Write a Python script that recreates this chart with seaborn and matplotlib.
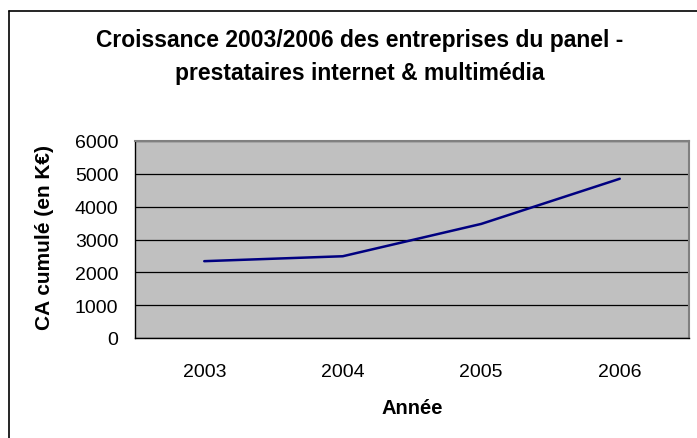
import numpy as np
import pandas as pd
import matplotlib
matplotlib.use("Agg")
import matplotlib.pyplot as plt
from matplotlib.lines import Line2D
import seaborn as sns

years = ["2003", "2004", "2005", "2006"]
ca_cumule = [2340, 2490, 3475, 4850]
y_ticks = [0, 1000, 2000, 3000, 4000, 5000, 6000]

title = "Croissance 2003/2006 des entreprises du panel -\nprestataires internet & multimédia"
x_label = "Année"
y_label = "CA cumulé (en K€)"

sns.set_style("white")
plt.rcParams["font.family"] = ["Liberation Sans", "DejaVu Sans"]
plt.rcParams["text.color"] = "black"
plt.rcParams["xtick.color"] = "black"
plt.rcParams["ytick.color"] = "black"

df = pd.DataFrame({"pos": np.arange(len(years)), "ca": ca_cumule})

fig = plt.figure(figsize=(6.97, 4.39), dpi=100)
ax = fig.add_axes([135 / 697, 100 / 439, 554 / 697, 197 / 439])
ax.set_facecolor("#C0C0C0")

sns.lineplot(data=df, x="pos", y="ca", color="#000080", linewidth=1.8, ax=ax)

ax.set_xlim(-0.5, len(years) - 0.5)
ax.set_ylim(0, 6000)
ax.set_yticks(y_ticks)
ax.set_yticklabels([str(v) for v in y_ticks], fontsize=14)
ax.grid(axis="y", color="black", linewidth=0.9)
ax.set_axisbelow(True)

# category ticks between labels, labels centred (Excel style)
ax.set_xticks(np.arange(len(years) + 1) - 0.5)
ax.set_xticklabels([])
ax.set_xticks(np.arange(len(years)), minor=True)
ax.set_xticklabels(years, minor=True, fontsize=14)
ax.tick_params(axis="x", which="major", length=5, width=0.9, color="black", direction="out")
ax.tick_params(axis="x", which="minor", length=0, pad=18)
ax.tick_params(axis="y", length=5, width=0.9, color="black", direction="out", pad=7)

for side in ["left", "bottom"]:
    ax.spines[side].set_color("black")
    ax.spines[side].set_linewidth(1.0)
for side in ["top", "right"]:
    ax.spines[side].set_color("#808080")
    ax.spines[side].set_linewidth(1.5)

ax.set_xlabel("")
ax.set_ylabel("")
fig.text(412 / 697, 1 - 409 / 439, x_label, ha="center", va="center",
         fontsize=14.5, fontweight="bold")
fig.text(45 / 697, 1 - 237 / 439, y_label, ha="center", va="center",
         rotation=90, fontsize=15, fontweight="bold")
fig.text(360 / 697, 1 - 57 / 439, title, ha="center", va="center",
         fontsize=16.5, fontweight="bold", linespacing=1.6)

# chart area frame (only left and top edges visible)
fig.add_artist(Line2D([9 / 697, 9 / 697], [0, 1 - 12 / 439],
                      transform=fig.transFigure, color="black", linewidth=1.2))
fig.add_artist(Line2D([9 / 697, 1], [1 - 12 / 439, 1 - 12 / 439],
                      transform=fig.transFigure, color="black", linewidth=1.2))

fig.savefig("out.png", dpi=100)
